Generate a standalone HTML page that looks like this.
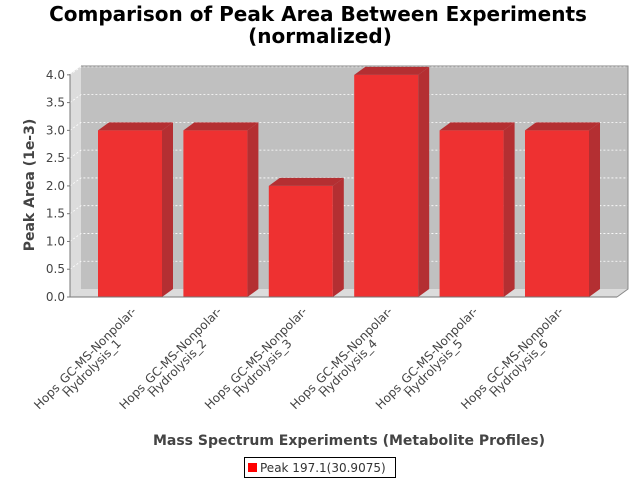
<!DOCTYPE html>
<html><head><meta charset="utf-8"><style>
body{margin:0;background:#fff}
svg{display:block;font-family:"DejaVu Sans","Liberation Sans",sans-serif}
</style></head><body>
<svg width="640" height="480" viewBox="0 0 640 480">
<text x="318" y="21" font-size="20" font-weight="bold" text-anchor="middle" fill="#000">Comparison of Peak Area Between Experiments</text>
<text x="320" y="43" font-size="20" font-weight="bold" text-anchor="middle" fill="#000">(normalized)</text>
<g id="plot"></g>
<text transform="translate(34,185) rotate(-90)" font-size="14" font-weight="bold" text-anchor="middle" fill="#444">Peak Area (1e-3)</text>
<text x="349" y="445" font-size="14" font-weight="bold" text-anchor="middle" fill="#444">Mass Spectrum Experiments (Metabolite Profiles)</text>
<g>
<rect x="244.5" y="457.5" width="151" height="20" fill="#fff" stroke="#000"/>
<rect x="248" y="463" width="9" height="9" fill="#f00"/>
<text x="260" y="472" font-size="12" fill="#333">Peak 197.1(30.9075)</text>
</g>
</svg>
<script>
const categories=["Hops_GC-MS-Nonpolar-Hydrolysis_1","Hops_GC-MS-Nonpolar-Hydrolysis_2","Hops_GC-MS-Nonpolar-Hydrolysis_3","Hops_GC-MS-Nonpolar-Hydrolysis_4","Hops_GC-MS-Nonpolar-Hydrolysis_5","Hops_GC-MS-Nonpolar-Hydrolysis_6"];
const values=[3.0,3.0,2.0,4.0,3.0,3.0];
const yTicks=[0,0.5,1,1.5,2,2.5,3,3.5,4];
const yTickLabels=["0.0","0.5","1.0","1.5","2.0","2.5","3.0","3.5","4.0"];
const NS="http://www.w3.org/2000/svg";
const g=document.getElementById('plot');
const X0=70,X1=617,Y0=297,DX=11,DY=8,YMAX=4.015;
function y(v){return Y0-(v/YMAX)*223;}
function bx(i){return 98+i*85.4;}
function mk(t,a,p){const e=document.createElementNS(NS,t);for(const k in a)e.setAttribute(k,a[k]);(p||g).appendChild(e);return e;}
let e;
e=mk('polygon',{points:`${X0+DX},${y(YMAX)-DY} ${X1+DX},${y(YMAX)-DY} ${X1+DX},${Y0-DY} ${X0+DX},${Y0-DY}`,fill:'#c0c0c0'});


e=mk('polygon',{points:`${X0},${y(YMAX)} ${X0+DX},${y(YMAX)-DY} ${X0+DX},${Y0-DY} ${X0},${Y0}`,fill:'#dcdcdc'});


e=mk('polygon',{points:`${X0},${Y0} ${X0+DX},${Y0-DY} ${X1+DX},${Y0-DY} ${X1},${Y0}`,fill:'#dcdcdc'});


yTicks.forEach((t,i)=>{
 if(t>0){e=mk('polyline',{points:`${X0},${y(t)} ${X0+DX},${y(t)-DY} ${X1+DX},${y(t)-DY}`,fill:'none',stroke:'#fff','stroke-width':0.8,'stroke-dasharray':'2,2'});
 
 }
 e=mk('line',{x1:X0-3,x2:X0,y1:y(t),y2:y(t),stroke:'#777'});
 
 
 e=mk('text',{x:X0-5,y:y(t)+4,'font-size':12,'text-anchor':'end',fill:'#444'});
 e.textContent=yTickLabels[i];
 
 
});
e=mk('polyline',{points:`${X0+DX},${y(YMAX)-DY} ${X1+DX},${y(YMAX)-DY} ${X1+DX},${Y0-DY} ${X1},${Y0}`,fill:'none',stroke:'#888'});


values.forEach((v,i)=>{
 const x=bx(i),w=64,top=y(v);
 const bg=mk('g',{});
 
 
 mk('rect',{x:x,y:top,width:w,height:Y0-top,fill:'#ee3131'},bg);
 mk('polygon',{points:`${x+w},${top} ${x+w+DX},${top-DY} ${x+w+DX},${Y0-DY} ${x+w},${Y0}`,fill:'#b42f32'},bg);
 mk('polygon',{points:`${x},${top} ${x+DX},${top-DY} ${x+w+DX},${top-DY} ${x+w},${top}`,fill:'#b42f32'},bg);
 const c=x+32;
 const parts=[categories[i].slice(0,20),categories[i].slice(20)];
 parts.forEach((p,j)=>{
  const cx=c-42+j*7,cy=361+j*10;
  e=mk('text',{transform:`translate(${cx},${cy}) rotate(-45)`,'font-size':12,'text-anchor':'middle',fill:'#444'});
  e.textContent=p;
  
  
 });
});
e=mk('line',{x1:X0,x2:X0,y1:y(YMAX),y2:Y0,stroke:'#777'});


e=mk('line',{x1:X0,x2:X1,y1:Y0,y2:Y0,stroke:'#777'});


</script>
</body></html>
